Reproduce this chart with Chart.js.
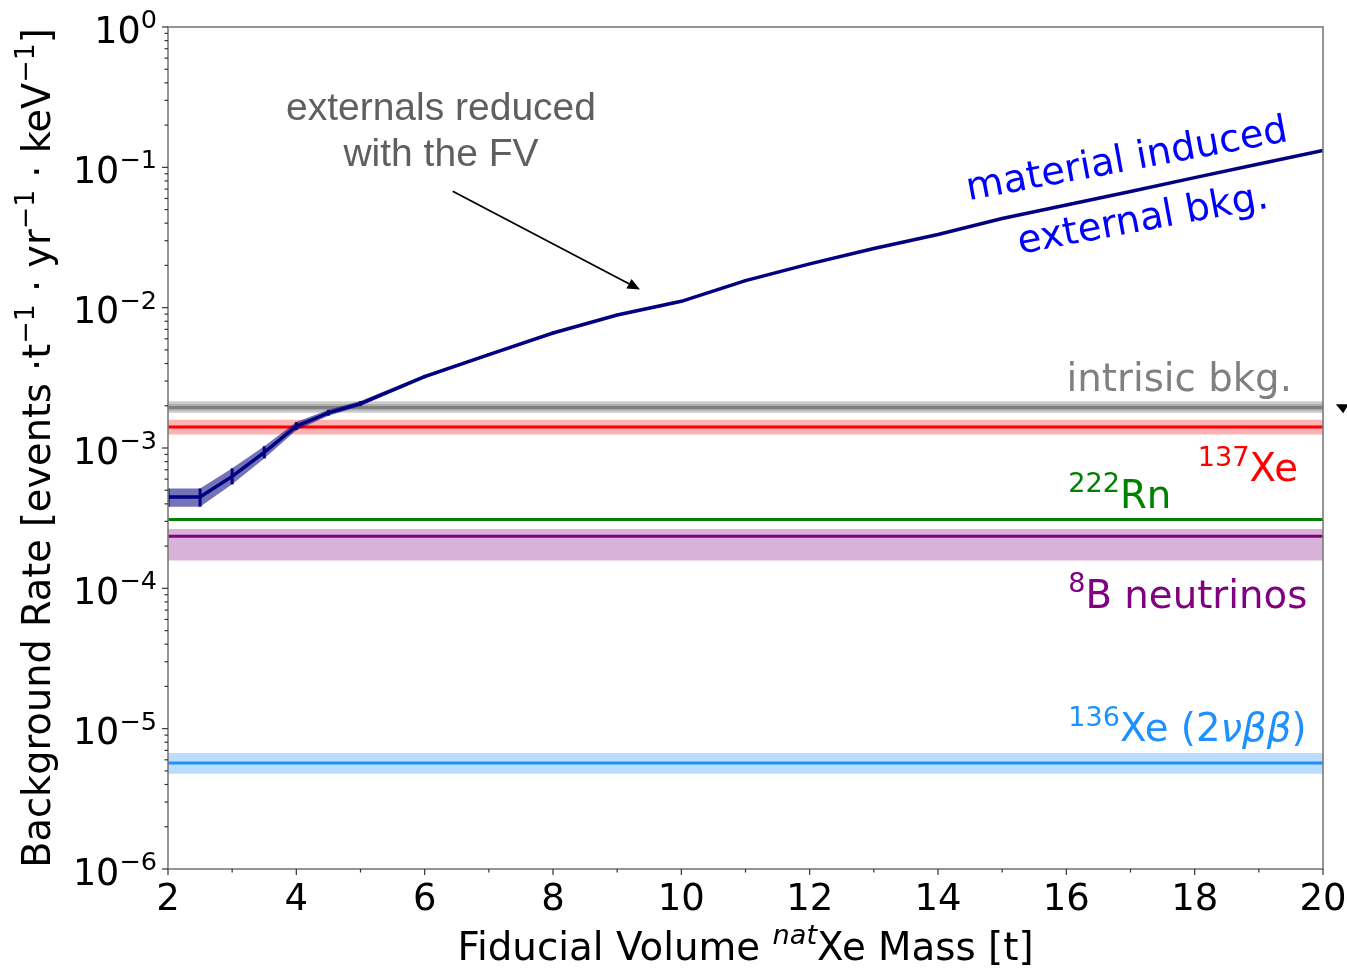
<!DOCTYPE html>
<html>
<head>
<meta charset="utf-8">
<script src="https://cdn.jsdelivr.net/npm/chart.js@4/dist/chart.umd.min.js"></script>
<style>
  html, body { margin: 0; padding: 0; background: #ffffff; }
  #wrap { position: relative; width: 1347px; height: 968px; }
</style>
</head>
<body>
<div id="wrap"><canvas id="c"></canvas></div>
<script>
// Fiducial volume mass [t] and the material-induced external background rate
const massT = [2, 2.5, 3, 3.5, 4, 4.5, 5, 6, 7, 8, 9, 10, 11, 12, 13, 14, 15, 16, 17, 18, 19, 20];
const materialRate = [4.48e-4, 4.48e-4, 6.28e-4, 9.31e-4, 1.43e-3, 1.78e-3, 2.07e-3, 3.23e-3, 4.63e-3, 6.60e-3, 8.86e-3, 1.11e-2, 1.56e-2, 2.05e-2, 2.64e-2, 3.32e-2, 4.32e-2, 5.39e-2, 6.72e-2, 8.45e-2, 0.1056, 0.1318];
const materialLow  = [3.82e-4, 3.82e-4, 5.51e-4, 8.43e-4, 1.34e-3, 1.70e-3, 1.99e-3, 3.14e-3, 4.52e-3, 6.47e-3, 8.70e-3, 1.09e-2, 1.53e-2, 2.02e-2, 2.60e-2, 3.28e-2, 4.27e-2, 5.33e-2, 6.65e-2, 8.37e-2, 0.1046, 0.1306];
const materialHigh = [5.14e-4, 5.14e-4, 7.16e-4, 1.03e-3, 1.53e-3, 1.87e-3, 2.16e-3, 3.32e-3, 4.74e-3, 6.73e-3, 9.02e-3, 1.13e-2, 1.59e-2, 2.08e-2, 2.68e-2, 3.36e-2, 4.37e-2, 5.45e-2, 6.79e-2, 8.53e-2, 0.1066, 0.1330];

// Mass-independent background levels: intrinsic, 137Xe, 222Rn, 8B neutrinos, 136Xe 2vbb
const levelRate = [1.94e-3, 1.41e-3, 3.09e-4, 2.35e-4, 5.69e-6];
const levelLow  = [1.78e-3, 1.25e-3, 3.09e-4, 1.58e-4, 4.78e-6];
const levelHigh = [2.15e-3, 1.59e-3, 3.09e-4, 2.65e-4, 6.71e-6];
const intrinsicInner = [1.85e-3, 2.06e-3];

// Axis ticks
const massRange = [2, 20];
const xTickValues = [2, 4, 6, 8, 10, 12, 14, 16, 18, 20];
const yTickExponents = [0, -1, -2, -3, -4, -5, -6];

const levelLine = ['#808080', '#ff0000', '#008000', '#800080', '#1e90ff'];
const levelBand = ['rgba(128,128,128,0.4)', 'rgba(255,0,0,0.3)', null, 'rgba(128,0,128,0.3)', 'rgba(30,144,255,0.3)'];

const flat = v => [{ x: massRange[0], y: v }, { x: massRange[1], y: v }];
const pts = arr => massT.map((m, i) => ({ x: m, y: arr[i] }));

const datasets = [];
const invisible = { borderWidth: 0, pointRadius: 0, fill: false, borderColor: 'rgba(0,0,0,0)' };

// material curve: line on top, band underneath
datasets.push({ data: pts(materialRate), borderColor: '#000080', borderWidth: 3.5, pointRadius: 0, fill: false, tension: 0, order: 1 });
datasets.push({ ...invisible, data: pts(materialHigh), order: 2 });
datasets.push({ data: pts(materialLow), borderWidth: 0, pointRadius: 0, borderColor: 'rgba(0,0,0,0)', fill: '-1', backgroundColor: 'rgba(0,0,128,0.55)', order: 2 });

levelRate.forEach((v, i) => {
  datasets.push({ data: flat(v), borderColor: levelLine[i], borderWidth: 3, pointRadius: 0, fill: false, order: 10 });
  if (levelBand[i]) {
    datasets.push({ ...invisible, data: flat(levelHigh[i]), order: 20 });
    datasets.push({ data: flat(levelLow[i]), borderWidth: 0, pointRadius: 0, borderColor: 'rgba(0,0,0,0)', fill: '-1', backgroundColor: levelBand[i], order: 20 });
  }
});
datasets.push({ ...invisible, data: flat(intrinsicInner[1]), order: 20 });
datasets.push({ data: flat(intrinsicInner[0]), borderWidth: 0, pointRadius: 0, borderColor: 'rgba(0,0,0,0)', fill: '-1', backgroundColor: 'rgba(128,128,128,0.4)', order: 20 });

const DV = '"DejaVu Sans", "Noto Sans", sans-serif';

// Draw a run of text pieces; kinds: n normal, s superscript, i italic, si italic superscript
function textRun(ctx, parts, x, y, align, size, color, family) {
  family = family || DV;
  const fontFor = k => {
    const sup = k === 's' || k === 'si';
    const it = k === 'i' || k === 'si';
    return (it ? 'italic ' : '') + (sup ? size * 0.7 : size) + 'px ' + family;
  };
  let total = 0;
  const widths = parts.map(([t, k]) => { ctx.font = fontFor(k); const w = ctx.measureText(t).width; total += w; return w; });
  let cx = align === 'right' ? x - total : align === 'center' ? x - total / 2 : x;
  ctx.fillStyle = color;
  ctx.textAlign = 'left';
  ctx.textBaseline = 'alphabetic';
  parts.forEach(([t, k], i) => {
    ctx.font = fontFor(k);
    const raise = (k === 's' || k === 'si') ? size * 0.4 : 0;
    ctx.fillText(t, cx, y - raise);
    cx += widths[i];
  });
}

const decor = {
  id: 'decor',
  beforeDraw(chart) {
    const ctx = chart.ctx;
    ctx.save();
    ctx.fillStyle = '#ffffff';
    ctx.fillRect(0, 0, chart.width, chart.height);
    ctx.restore();
  },
  afterDatasetsDraw(chart) {
    // vertical error bars on the material curve
    const { ctx, scales: { x, y } } = chart;
    ctx.save();
    ctx.beginPath();
    ctx.rect(chart.chartArea.left, chart.chartArea.top, chart.chartArea.right - chart.chartArea.left, chart.chartArea.bottom - chart.chartArea.top);
    ctx.clip();
    ctx.strokeStyle = '#000080';
    ctx.lineWidth = 3;
    massT.forEach((m, i) => {
      const px = x.getPixelForValue(m);
      ctx.beginPath();
      ctx.moveTo(px, y.getPixelForValue(materialLow[i]));
      ctx.lineTo(px, y.getPixelForValue(materialHigh[i]));
      ctx.stroke();
    });
    ctx.restore();
  },
  afterDraw(chart) {
    const { ctx, chartArea: a, scales: { x, y } } = chart;
    ctx.save();

    // frame
    ctx.strokeStyle = '#7a7a7a';
    ctx.lineWidth = 1.6;
    ctx.strokeRect(a.left, a.top, a.right - a.left, a.bottom - a.top);

    // ticks
    ctx.strokeStyle = '#333333';
    ctx.lineWidth = 1.2;
    for (let m = massRange[0]; m <= massRange[1]; m++) {
      const px = x.getPixelForValue(m);
      const len = m % 2 === 0 ? 6 : 3.5;
      ctx.beginPath(); ctx.moveTo(px, a.bottom); ctx.lineTo(px, a.bottom + len); ctx.stroke();
    }
    yTickExponents.forEach(e => {
      const py = y.getPixelForValue(Math.pow(10, e));
      ctx.beginPath(); ctx.moveTo(a.left, py); ctx.lineTo(a.left - 6, py); ctx.stroke();
      if (e > yTickExponents[yTickExponents.length - 1]) {
        for (let k = 2; k <= 9; k++) {
          const pm = y.getPixelForValue(k * Math.pow(10, e - 1));
          ctx.beginPath(); ctx.moveTo(a.left, pm); ctx.lineTo(a.left - 3.5, pm); ctx.stroke();
        }
      }
    });

    // tick labels
    xTickValues.forEach(v => {
      ctx.font = '37px ' + DV;
      ctx.fillStyle = '#000000';
      ctx.textAlign = 'center';
      ctx.textBaseline = 'alphabetic';
      ctx.fillText(String(v), x.getPixelForValue(v), 910);
    });
    yTickExponents.forEach(e => {
      const py = y.getPixelForValue(Math.pow(10, e));
      const ex = e === 0 ? '0' : '\u2212' + (-e);
      textRun(ctx, [['10', 'n'], [ex, 's']], 157, py + 15.5, 'right', 36.5, '#000000');
    });

    // axis titles
    textRun(ctx, [['Fiducial Volume ', 'n'], ['nat', 'si'], ['Xe Mass [t]', 'n']],
      (a.left + a.right) / 2, 959.5, 'center', 38.8, '#000000');
    ctx.save();
    ctx.translate(49.5, (a.top + a.bottom) / 2);
    ctx.rotate(-Math.PI / 2);
    textRun(ctx, [['Background Rate [events \u00b7t', 'n'], ['\u22121', 's'], [' \u00b7 yr', 'n'], ['\u22121', 's'],
      [' \u00b7 keV', 'n'], ['\u22121', 's'], [']', 'n']], 0, 0, 'center', 38.3, '#000000');
    ctx.restore();

    // level labels
    const P = (mx, r) => [x.getPixelForValue(mx), y.getPixelForValue(r)];
    let p;
    p = P(19.516, 2.54e-3); textRun(ctx, [['intrisic bkg.', 'n']], p[0], p[1], 'right', 38.7, '#808080');
    p = P(19.61, 5.81e-4); textRun(ctx, [['137', 's'], ['Xe', 'n']], p[0], p[1], 'right', 38.7, '#ff0000');
    p = P(16.03, 3.74e-4); textRun(ctx, [['222', 's'], ['Rn', 'n']], p[0], p[1], 'left', 38.7, '#008000');
    p = P(16.03, 7.25e-5); textRun(ctx, [['8', 's'], ['B neutrinos', 'n']], p[0], p[1], 'left', 38.7, '#800080');
    p = P(16.03, 8.12e-6); textRun(ctx, [['136', 's'], ['Xe (2', 'n'], ['\u03bd\u03b2\u03b2', 'i'], [')', 'n']], p[0], p[1], 'left', 38.7, '#1e90ff');

    // rotated curve labels
    const ang = -10.5 * Math.PI / 180;
    [['material induced', 16.976, 0.0949], ['external bkg.', 17.225, 0.03544]].forEach(([t, mx, r]) => {
      const q = P(mx, r);
      ctx.save();
      ctx.translate(q[0], q[1]);
      ctx.rotate(ang);
      textRun(ctx, [[t, 'n']], 0, 0, 'center', 38.5, '#0000ff');
      ctx.restore();
    });

    // FV annotation
    const LS = '"Liberation Sans", Arial, sans-serif';
    p = P(6.254, 0.2166); textRun(ctx, [['externals reduced', 'n']], p[0], p[1], 'center', 39, '#5f5f5f', LS);
    p = P(6.254, 0.1030); textRun(ctx, [['with the FV', 'n']], p[0], p[1], 'center', 39, '#5f5f5f', LS);

    const s = P(6.437, 0.0676), t = P(9.356, 0.01346);
    const dx = t[0] - s[0], dy = t[1] - s[1], L = Math.hypot(dx, dy);
    const ux = dx / L, uy = dy / L, hl = 12.5, hw = 5.5;
    ctx.strokeStyle = '#000000';
    ctx.lineWidth = 1.8;
    ctx.beginPath(); ctx.moveTo(s[0], s[1]); ctx.lineTo(t[0] - ux * hl, t[1] - uy * hl); ctx.stroke();
    ctx.fillStyle = '#000000';
    ctx.beginPath();
    ctx.moveTo(t[0], t[1]);
    ctx.lineTo(t[0] - ux * hl - uy * hw, t[1] - uy * hl + ux * hw);
    ctx.lineTo(t[0] - ux * hl + uy * hw, t[1] - uy * hl - ux * hw);
    ctx.closePath(); ctx.fill();

    // small pointer beside the intrinsic level
    const k1 = P(20.2, 2.05e-3), k2 = P(20.4, 2.05e-3), k3 = P(20.315, 1.77e-3);
    ctx.beginPath(); ctx.moveTo(k1[0], k1[1]); ctx.lineTo(k2[0], k2[1]); ctx.lineTo(k3[0], k3[1]); ctx.closePath(); ctx.fill();

    ctx.restore();
  }
};

new Chart(document.getElementById('c'), {
  type: 'line',
  data: { datasets },
  options: {
    responsive: true,
    maintainAspectRatio: false,
    animation: false,
    layout: { padding: { left: 168, top: 27, right: 24, bottom: 99 } },
    scales: {
      x: { type: 'linear', min: massRange[0], max: massRange[1], display: false },
      y: { type: 'logarithmic', min: 1e-6, max: 1, display: false }
    },
    plugins: { legend: { display: false }, tooltip: { enabled: false } },
    elements: { line: { tension: 0 } }
  },
  plugins: [decor]
});
</script>
</body>
</html>
